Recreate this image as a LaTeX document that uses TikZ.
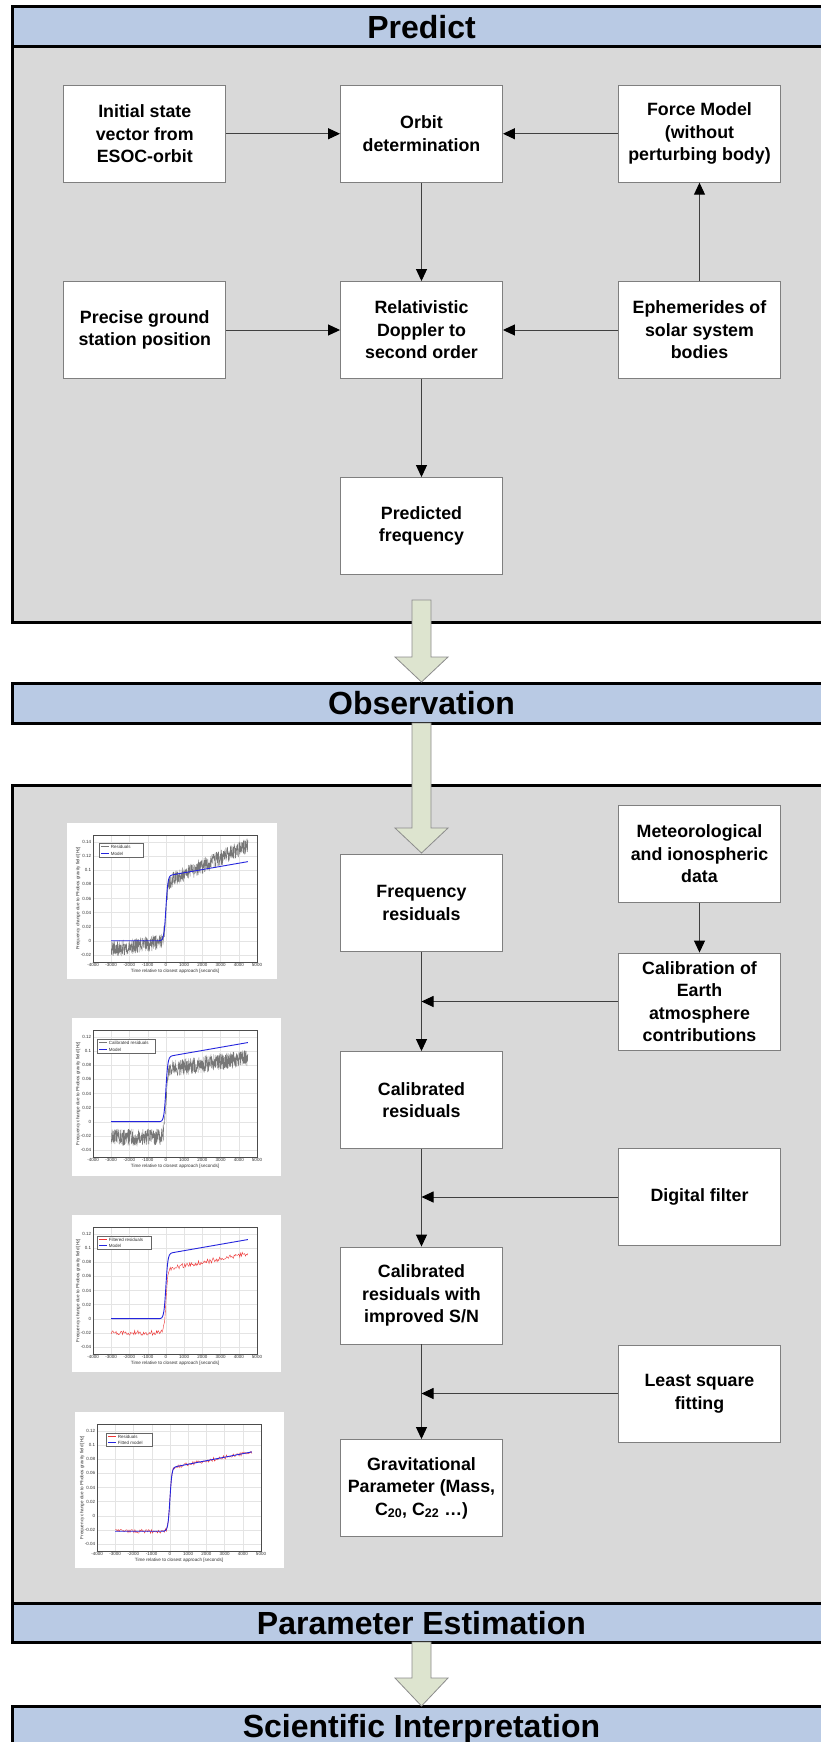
\documentclass[tikz,border=0pt]{standalone}
\usepackage{fontspec}
\setmainfont{Liberation Sans}
\usetikzlibrary{arrows.meta}
\definecolor{panelgray}{HTML}{D9D9D9}
\definecolor{hdrblue}{HTML}{B9CAE4}
\definecolor{bigarrowfill}{HTML}{DDE4CF}
\definecolor{linegray}{HTML}{404040}
\definecolor{boxline}{HTML}{7F7F7F}
\definecolor{modelblue}{HTML}{2424DD}
\definecolor{resred}{HTML}{EE3535}
\definecolor{resgray}{HTML}{777777}
\definecolor{gridc}{HTML}{E4E4E4}

\tikzset{
  panel/.style={fill=panelgray, draw=black, line width=3pt},
  hdr/.style={fill=hdrblue, draw=black, line width=3pt},
  hdrtext/.style={font=\bfseries\fontsize{32}{36}\selectfont, inner sep=0pt, text height=23pt, text depth=0pt},
  bx/.style={draw=boxline, line width=0.9pt, fill=white, minimum width=162pt, minimum height=97pt,
    align=center, font=\bfseries\fontsize{17.8}{22.5}\selectfont, inner sep=2pt},
  conn/.style={draw=linegray, line width=1pt, -{Triangle[length=12pt,width=11pt,color=black]}},
  bigarrowstyle/.style={fill=bigarrowfill, draw=black!45, line width=0.8pt},
  pgrid/.style={draw=gridc, line width=0.3pt},
  paxis/.style={draw=black!70, line width=0.4pt},
  ptick/.style={font=\fontsize{4.5}{5}\selectfont, inner sep=0.6pt, text=black!80},
  plabel/.style={font=\fontsize{4.6}{5}\selectfont, inner sep=0.5pt, text=black!80},
}

\newcommand{\bigarr}[4]{%
  \draw[bigarrowstyle] (#1-9.5,#2) -- (#1-9.5,#3) -- (#1-26.5,#3) -- (#1,#4) -- (#1+26.5,#3) -- (#1+9.5,#3) -- (#1+9.5,#2) -- cycle;}

\newcommand{\plotaxes}[3]{%
  \foreach \gx in {-3,...,4} \draw[pgrid] (\gx,#1) -- (\gx,#2);
  \foreach \gy/\gl in {#3} {\draw[pgrid] (-4,\gy) -- (5,\gy);
    \node[ptick, anchor=east] at ([xshift=-1pt]-4,\gy) {\gl};}
  \draw[paxis] (-4,#1) rectangle (5,#2);
  \foreach \gx in {-4,...,5} \node[ptick, anchor=north] at ([yshift=-1pt]\gx,#1) {\the\numexpr\gx*1000\relax};
  \node[plabel, anchor=north] at ([yshift=-6pt]0.5,#1) {Time relative to closest approach [seconds]};
  \node[plabel, rotate=90, anchor=south] at ([xshift=-12pt]-4,{(#1+#2)/2}) {Frequency change due to Phobos gravity field [Hz]};
}

\newcommand{\plotlegend}[8]{%
  \draw[draw=black!60, line width=0.3pt, fill=white] (#1,#2) rectangle (#3,#4);
  \draw[#5, line width=0.7pt] (#1+2,#2+3.6) -- (#1+10,#2+3.6);
  \node[ptick, anchor=west] at (#1+11,#2+3.6) {#6};
  \draw[#7, line width=0.7pt] (#1+2,#4-3.6) -- (#1+10,#4-3.6);
  \node[ptick, anchor=west] at (#1+11,#4-3.6) {#8};
}

\begin{document}
\begin{tikzpicture}[x=1pt, y=-1pt,
  declare function={
    sig(\t)=1/(1+exp(-2*max(min(\t/0.11,4),-4)));
    mdl(\t)=9.2*sig(\t)+0.45*max(\t,0);
    res1(\t)=mdl(\t)+((\t<0)?(0.37*\t-0.1):(-0.8+3.1*(\t-0.2)/4.3));
    res2(\t)=-2.2+9.6*sig(\t)+0.36*max(\t,0);
    res3(\t)=-2.0+9.0*sig(\t)+0.5*max(\t,0);
    mdlb(\t)=-2.2+9.0*sig(\t)+0.5*max(\t,0);
  }]
\pgfmathsetseed{42}
\useasboundingbox (0,0) rectangle (821,1742);
\clip (0,0) rectangle (821,1742);
\fill[white] (0,0) rectangle (821,1742);

% ---------- panels and headers ----------
\draw[panel] (12,7) rectangle (830,622);
\draw[hdr] (12,7) rectangle (830,47);
\node[hdrtext] (hPredict) at (421.5,27) {Predict};

\draw[hdr] (12,683) rectangle (830,723);
\node[hdrtext] (hObs) at (421.5,703) {Observation};

\draw[panel] (12,785) rectangle (830,1642);
\draw[hdr] (12,1603) rectangle (830,1642);
\node[hdrtext] (hPar) at (421.5,1622.5) {Parameter Estimation};

\draw[hdr] (12,1706) rectangle (830,1760);
\node[hdrtext] (hSci) at (421.5,1726) {Scientific Interpretation};

% ---------- big arrows ----------
\bigarr{421.5}{600}{657}{682}
\bigarr{421.5}{723}{828}{853}
\bigarr{421.5}{1642}{1678}{1706}

% ---------- Predict boxes ----------
\node[bx] (A) at (144.75,133.75) {Initial state\\vector from\\ESOC-orbit};
\node[bx] (B) at (421.5,133.75) {Orbit\\determination};
\node[bx] (C) at (699.5,133.75) {Force Model\\(without\\perturbing body)};
\node[bx] (D) at (144.75,330) {Precise ground\\station position};
\node[bx] (E) at (421.5,330) {Relativistic\\Doppler to\\second order};
\node[bx] (F) at (699.5,330) {Ephemerides of\\solar system\\bodies};
\node[bx] (G) at (421.5,526) {Predicted\\frequency};

\draw[conn] (A) -- (B);
\draw[conn] (C) -- (B);
\draw[conn] (B) -- (E);
\draw[conn] (F) -- (C);
\draw[conn] (D) -- (E);
\draw[conn] (F) -- (E);
\draw[conn] (E) -- (G);

% ---------- Parameter estimation boxes ----------
\node[bx] (H) at (699.5,854) {Meteorological\\and ionospheric\\data};
\node[bx] (I) at (421.5,903) {Frequency\\residuals};
\node[bx] (J) at (699.5,1001.5) {Calibration of\\Earth\\atmosphere\\contributions};
\node[bx] (K) at (421.5,1100) {Calibrated\\residuals};
\node[bx] (L) at (699.5,1197) {Digital filter};
\node[bx] (M) at (421.5,1295.5) {Calibrated\\residuals with\\improved S/N};
\node[bx] (N) at (699.5,1393.5) {Least square\\fitting};
\node[bx] (O) at (421.5,1488) {Gravitational\\Parameter (Mass,\\C\textsubscript{20}, C\textsubscript{22} …)};

\draw[conn] (H) -- (J);
\draw[conn] (I) -- (K);
\draw[conn] (J.west) -- (I |- J.west);
\draw[conn] (K) -- (M);
\draw[conn] (L.west) -- (K |- L.west);
\draw[conn] (M) -- (O);
\draw[conn] (N.west) -- (M |- N.west);

% ---------- plot 1 ----------
\fill[white] (67,823) rectangle (277,979);
\begin{scope}[shift={(165.9,940.8)}, x=18.22pt, y=7.056pt]
  \plotaxes{-3}{15}{-2/-0.02,0/0,2/0.02,4/0.04,6/0.06,8/0.08,10/0.1,12/0.12,14/0.14}
  \draw[resgray, line width=0.35pt] plot[domain=-3:4.5, samples=800] (\x,{res1(\x)+1.1*rand});
  \draw[modelblue, line width=0.9pt] plot[domain=-3:4.5, samples=220, smooth] (\x,{mdl(\x)});
\end{scope}
\plotlegend{99}{843}{143}{857}{resgray}{Residuals}{modelblue}{Model}

% ---------- plot 2 ----------
\fill[white] (72,1018) rectangle (281,1176);
\begin{scope}[shift={(165.9,1121.7)}, x=18.22pt, y=7.056pt]
  \plotaxes{-5}{13}{-4/-0.04,-2/-0.02,0/0,2/0.02,4/0.04,6/0.06,8/0.08,10/0.1,12/0.12}
  \draw[resgray, line width=0.35pt] plot[domain=-3:4.5, samples=800] (\x,{res2(\x)+1.2*rand});
  \draw[modelblue, line width=0.9pt] plot[domain=-3:4.5, samples=220, smooth] (\x,{mdl(\x)});
\end{scope}
\plotlegend{97}{1039}{155}{1053}{resgray}{Calibrated residuals}{modelblue}{Model}

% ---------- plot 3 ----------
\fill[white] (72,1215) rectangle (281,1372);
\begin{scope}[shift={(165.9,1318.7)}, x=18.22pt, y=7.056pt]
  \plotaxes{-5}{13}{-4/-0.04,-2/-0.02,0/0,2/0.02,4/0.04,6/0.06,8/0.08,10/0.1,12/0.12}
  \draw[resred, line width=0.4pt] plot[domain=-3:4.5, samples=170] (\x,{res3(\x)+0.35*rand});
  \draw[modelblue, line width=0.9pt] plot[domain=-3:4.5, samples=220, smooth] (\x,{mdl(\x)});
\end{scope}
\plotlegend{97}{1236}{151}{1249}{resred}{Filtered residuals}{modelblue}{Model}

% ---------- plot 4 ----------
\fill[white] (75,1412) rectangle (284,1568);
\begin{scope}[shift={(169.9,1515.7)}, x=18.22pt, y=7.056pt]
  \plotaxes{-5}{13}{-4/-0.04,-2/-0.02,0/0,2/0.02,4/0.04,6/0.06,8/0.08,10/0.1,12/0.12}
  \draw[resred, line width=0.4pt] plot[domain=-3:4.5, samples=140] (\x,{mdlb(\x)+0.3*rand});
  \draw[modelblue, line width=0.9pt] plot[domain=-3:4.5, samples=220, smooth] (\x,{mdlb(\x)});
\end{scope}
\plotlegend{106}{1433}{152}{1446}{resred}{Residuals}{modelblue}{Fitted model}
\end{tikzpicture}
\end{document}
